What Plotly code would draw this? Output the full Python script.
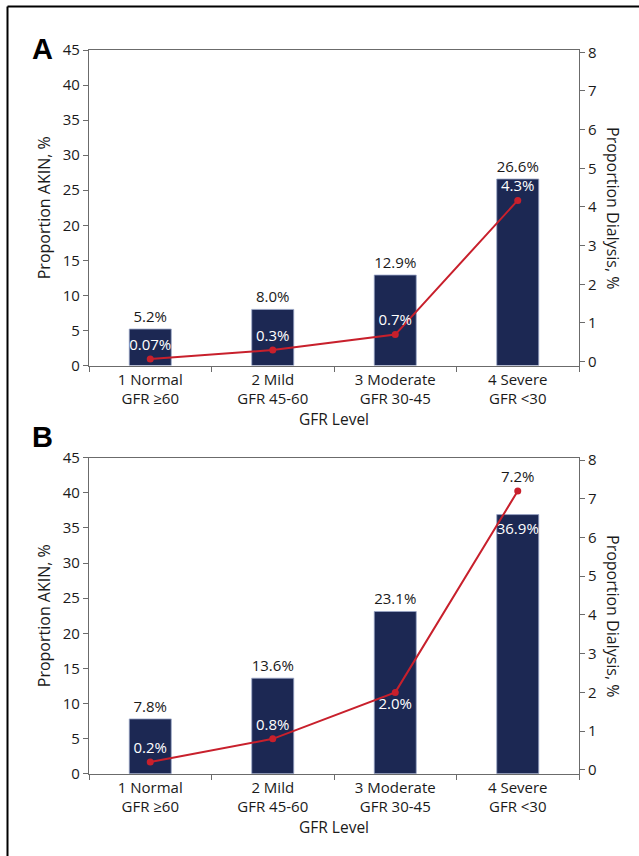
import plotly.graph_objects as go

W, H = 639, 856

categories = ["1 Normal<br>GFR ≥60", "2 Mild<br>GFR 45-60", "3 Moderate<br>GFR 30-45", "4 Severe<br>GFR <30"]

akin_a = [5.2, 8.0, 12.9, 26.6]
dialysis_a = [0.07, 0.3, 0.7, 4.17]
dialysis_a_labels = ["0.07%", "0.3%", "0.7%", "4.3%"]
akin_b = [7.8, 13.6, 23.1, 36.9]
dialysis_b = [0.2, 0.8, 2.0, 7.2]
dialysis_b_labels = ["0.2%", "0.8%", "2.0%", "7.2%"]

left_ticks = [0, 5, 10, 15, 20, 25, 30, 35, 40, 45]
right_ticks = [0, 1, 2, 3, 4, 5, 6, 7, 8]

NAVY = "#1c2853"
RED = "#c8202c"
AXIS = "#6b6b6b"
FONT = "Open Sans"
FS = 15
FT = 16
TXT = "#1a1a1a"

fig = go.Figure()

panels = [
    dict(akin=akin_a, dial=dialysis_a, lab=dialysis_a_labels, x="x", y="y", y2="y2",
         bar_pos=["outside"] * 4, bar_col=[TXT] * 4,
         line_pos=["top center"] * 4, line_col=["white"] * 4),
    dict(akin=akin_b, dial=dialysis_b, lab=dialysis_b_labels, x="x2", y="y3", y2="y4",
         bar_pos=["outside", "outside", "outside", "inside"],
         bar_col=[TXT, TXT, TXT, "white"],
         line_pos=["top center", "top center", "bottom center", "top center"],
         line_col=["white", "white", "white", TXT]),
]

for p in panels:
    fig.add_trace(go.Bar(
        x=categories, y=p["akin"], xaxis=p["x"], yaxis=p["y"],
        marker=dict(color=NAVY, line=dict(color="#9aa6c8", width=0.8)),
        text=[f"{v:.1f}%" for v in p["akin"]], textposition=p["bar_pos"],
        insidetextanchor="end", constraintext="none", textangle=0,
        textfont=dict(family=FONT, size=FS, color=p["bar_col"]),
        cliponaxis=False, showlegend=False,
    ))
    fig.add_trace(go.Scatter(
        x=categories, y=p["dial"], xaxis=p["x"], yaxis=p["y2"],
        mode="lines+markers+text",
        line=dict(color=RED, width=2), marker=dict(color=RED, size=7),
        text=p["lab"], textposition=p["line_pos"],
        textfont=dict(family=FONT, size=FS, color=p["line_col"]),
        cliponaxis=False, showlegend=False,
    ))

xdom = [89 / W, 579 / W]
ydom_a = [1 - 365.5 / H, 1 - 50 / H]
ydom_b = [1 - 773.7 / H, 1 - 457.7 / H]

common_x = dict(
    domain=xdom, range=[-0.5, 3.5], showline=True, linecolor=AXIS, linewidth=1.2,
    mirror=True, ticks="outside", tickson="boundaries", ticklen=5, tickcolor=AXIS,
    tickfont=dict(family=FONT, size=FS, color=TXT), automargin=False,
    title=dict(text="GFR Level", font=dict(family=FONT, size=15.5, color=TXT), standoff=4),
    showgrid=False, zeroline=False, fixedrange=True,
)
common_left = dict(
    range=[0, 45], tickvals=left_ticks, showline=True, linecolor=AXIS, linewidth=1.2,
    ticks="outside", ticklen=5, tickcolor=AXIS, showgrid=False, zeroline=False,
    tickfont=dict(family=FONT, size=FS, color=TXT), automargin=False,
    title=dict(text="Proportion AKIN, %", font=dict(family=FONT, size=FT, color=TXT), standoff=8),
)
common_right = dict(
    range=[-0.10, 8.06], tickvals=right_ticks, showline=True, linecolor=AXIS, linewidth=1.2,
    ticks="outside", ticklen=5, tickcolor=AXIS, showgrid=False, zeroline=False,
    side="right", tickfont=dict(family=FONT, size=FS, color=TXT), automargin=False,
)

fig.update_layout(
    width=W, height=H, autosize=False,
    margin=dict(l=0, r=0, t=0, b=0, pad=0, autoexpand=False),
    paper_bgcolor="white", plot_bgcolor="white",
    bargap=0.657, font=dict(family=FONT, size=FS, color=TXT),
    xaxis=dict(common_x, anchor="y"),
    yaxis=dict(common_left, domain=ydom_a, anchor="x"),
    yaxis2=dict(common_right, domain=ydom_a, anchor="x", overlaying="y"),
    xaxis2=dict(common_x, anchor="y3"),
    yaxis3=dict(common_left, domain=ydom_b, anchor="x2"),
    yaxis4=dict(common_right, domain=ydom_b, anchor="x2", overlaying="y3"),
)

for ycen in [208, 616]:
    fig.add_annotation(
        text="Proportion Dialysis, %", textangle=90, xref="paper", yref="paper",
        x=613 / W, y=1 - ycen / H, showarrow=False, xanchor="center", yanchor="middle",
        font=dict(family=FONT, size=FT, color=TXT),
    )

for label, ycen in [("A", 49.5), ("B", 436.5)]:
    fig.add_annotation(
        text=f"<b>{label}</b>", xref="paper", yref="paper",
        x=42.5 / W, y=1 - ycen / H, showarrow=False, xanchor="center", yanchor="middle",
        font=dict(family="Liberation Sans", size=29, color="black"),
    )

# outer frame (left and top edges)
fig.add_shape(type="line", xref="paper", yref="paper", x0=7.5 / W, x1=7.5 / W, y0=0, y1=1 - 6.5 / H,
              line=dict(color="black", width=2))
fig.add_shape(type="line", xref="paper", yref="paper", x0=7.5 / W, x1=1, y0=1 - 6.5 / H, y1=1 - 6.5 / H,
              line=dict(color="black", width=2))

fig.write_html("out.html", config={"displayModeBar": False},
               post_script="document.body.style.margin='0px';")
